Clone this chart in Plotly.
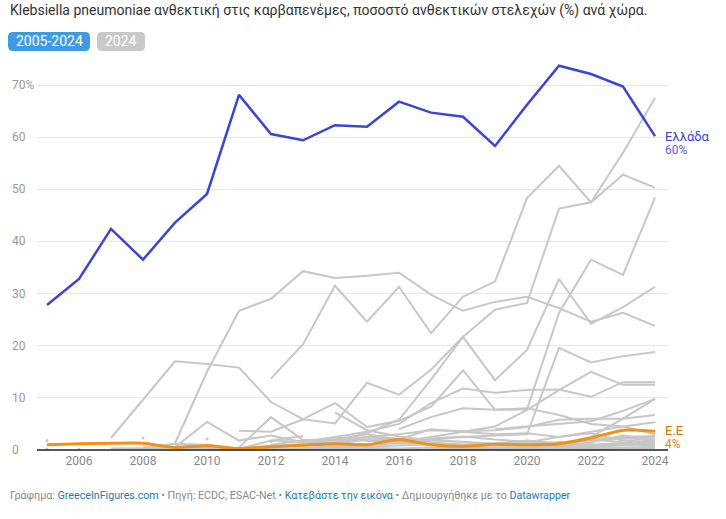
import plotly.graph_objects as go

N = None
years = list(range(2005, 2025))

greece = [27.8, 32.8, 42.4, 36.5, 43.6, 49.1, 68.1, 60.6, 59.4, 62.3,
          62.0, 66.8, 64.7, 63.9, 58.3, 66.2, 73.7, 72.1, 69.7, 60.2]
eu = [1.0, 1.2, 1.3, 1.3, 0.5, 0.8, 0.3, 0.6, 0.9, 1.2,
      1.0, 2.0, 1.0, 0.7, 1.1, 1.0, 1.2, 2.3, 3.8, 3.6]

# other countries (grey, unlabelled)
g_01 = [N, N, N, N, 1.3, 15.0, 26.7, 29.0, 34.3, 33.0, 33.4, 34.0, 29.8, 26.7, 28.4, 29.4, 27.2, 24.6, 26.3, 23.8]
g_02 = [N, N, N, N, N, N, N, 13.7, 20.3, 31.5, 24.6, 31.3, 22.4, 29.4, 32.3, 48.3, 54.5, 47.5, 52.8, 50.3]
g_03 = [N, N, N, N, N, N, N, N, 1.0, 1.8, 3.2, 5.8, 13.5, 21.7, 26.9, 28.2, 46.3, 47.5, 57.0, 67.5]
g_04 = [N, N, N, N, N, N, 3.7, 3.5, 5.9, 5.1, 12.9, 10.6, 15.4, 21.7, 13.4, 19.2, 32.8, 24.2, 27.4, 31.3]
g_05 = [N, N, 2.3, 9.6, 17.0, 16.5, 15.8, 9.2, 5.9, 9.0, 4.4, 5.6, 8.3, 15.3, 7.7, 7.8, 26.3, 36.5, 33.6, 48.4]
g_06 = [N, N, N, N, N, N, N, N, N, 0.5, 1.0, 1.5, 2.0, 2.5, 2.8, 3.0, 19.6, 16.8, 18.0, 18.8]
g_07 = [N, N, N, N, N, N, N, N, 1.5, 2.5, 3.5, 5.0, 9.0, 11.8, 11.0, 11.5, 11.6, 10.2, 13.0, 13.0]
g_08 = [N, N, N, N, N, N, N, N, N, N, N, 1.5, 2.5, 3.5, 4.5, 7.7, 11.5, 15.0, 12.5, 12.5]
g_09 = [N, N, N, N, N, N, N, N, N, N, N, N, N, N, N, N, 1.2, 2.5, 6.0, 9.8]
g_10 = [N, N, N, N, N, N, N, N, N, N, N, N, N, N, 4.0, 4.5, 5.0, 5.5, 7.5, 9.8]
g_11 = [N, N, N, N, N, N, N, N, N, N, N, 4.0, 6.3, 8.0, 7.7, 8.0, 6.7, 5.0, 4.5, 3.0]
g_12 = [N, N, N, N, N, N, N, N, N, 1.5, 2.5, 3.0, 3.8, 3.6, 3.8, 4.4, 5.8, 6.0, 6.0, 6.7]
g_13 = [N, N, N, N, N, N, N, N, N, N, N, N, N, N, 1.0, 1.5, 2.5, 3.5, 4.5, 5.3]
g_14 = [N, N, 0.3, 0.3, 0.4, 0.5, 0.3, 0.8, 1.2, 1.5, 1.0, 1.3, 1.0, 0.8, 1.2, 1.0, 1.5, 1.8, 2.2, 2.5]
g_15 = [N, N, N, 0.5, 1.2, 1.0, 0.2, 1.8, 1.5, 1.2, 2.0, 2.2, 1.5, 1.0, 0.8, 1.0, 0.6, 1.5, 2.8, 2.0]
g_16 = [N, N, N, N, 0.2, 0.3, 0.2, 0.5, 0.8, 2.3, 1.8, 1.5, 2.0, 1.5, 1.0, 0.5, 0.8, 2.0, 1.5, 1.2]
g_17 = [N, N, N, N, N, 0.1, 0.1, 0.2, 0.3, 0.5, 0.4, 0.3, 0.5, 0.4, 0.3, 0.3, 0.5, 0.8, 1.0, 1.0]
g_18 = [N, N, N, N, N, N, N, 0.0, 0.1, 0.2, 0.1, 0.0, 0.1, 0.2, 0.1, 0.1, 0.2, 0.2, 0.3, 0.4]
g_19 = [N, N, N, N, N, N, N, N, 1.2, 2.0, 3.0, 2.0, 4.0, 3.5, 3.0, 3.2, 2.5, 3.2, 1.8, 1.5]
g_20 = [N, N, N, N, N, N, N, 1.0, 1.8, 1.8, 2.5, 2.0, 1.2, 0.8, 0.3, 0.5, 0.8, 1.0, 1.3, 0.8]
g_21 = [N, N, N, N, 0.5, 5.4, 1.8, 2.8, 1.5, 2.5, 2.0, 1.5, 1.2, 1.0, 1.3, 1.8, 1.2, 1.0, 0.9, 1.2]
g_22 = [N, N, N, N, N, N, 0.5, 6.3, 1.9, 2.0, 1.8, 1.6, 2.2, 2.6, 2.0, 1.6, 1.4, 1.9, 2.4, 1.7]
g_23 = [N, N, N, N, N, N, N, N, N, 7.2, 3.8, 2.6, 1.8, 1.6, 1.2, 1.0, 1.4, 2.0, 2.5, 2.7]
g_24 = [N, N, N, N, N, N, N, 1.8, 2.7, N, N, N, N, N, N, N, N, N, N, N]
g_25 = [N, N, N, N, N, N, N, N, 0.4, 0.8, 0.6, 0.9, 1.1, 0.6, 0.9, 0.7, 0.4, 0.6, 0.5, 0.6]

# single reported values
dot_years = [2005, 2005, 2006, 2008, 2010, 2012]
dot_vals = [1.8, 0.2, 0.2, 2.3, 2.1, 1.6]

x_ticks = list(range(2006, 2025, 2))
y_ticks = [0, 10, 20, 30, 40, 50, 60, 70]

others = [g_01, g_02, g_03, g_04, g_05, g_06, g_07, g_08, g_09, g_10, g_11, g_12, g_13,
          g_14, g_15, g_16, g_17, g_18, g_19, g_20, g_21, g_22, g_23, g_24, g_25]

BLUE = "#3a45d6"
ORANGE = "#f39113"
GREY = "#c7c7c7"

fig = go.Figure()
for s in others:
    fig.add_trace(go.Scatter(x=years, y=s, mode="lines", line=dict(color=GREY, width=2),
                             hoverinfo="skip", showlegend=False))
fig.add_trace(go.Scatter(x=dot_years, y=dot_vals, mode="markers",
                         marker=dict(color=GREY, size=3), hoverinfo="skip", showlegend=False))
fig.add_trace(go.Scatter(x=years, y=eu, mode="lines",
                         line=dict(color=ORANGE, width=3, shape="spline", smoothing=0.6),
                         name="Ε.Ε", showlegend=False))
fig.add_trace(go.Scatter(x=years, y=greece, mode="lines", line=dict(color=BLUE, width=2.5),
                         name="Ελλάδα", showlegend=False))

# plot area in pixels
L, R, T, B = 37, 668, 55, 452
W, H = R - L, B - T
PX_PER_UNIT = 5.214


def px(x):
    return (x - L) / W


def py(y):
    return (B - y) / H


def pill(x0, y0, x1, y1, r):
    pts = [
        f"M{px(x0 + r)},{py(y0)}", f"L{px(x1 - r)},{py(y0)}", f"Q{px(x1)},{py(y0)} {px(x1)},{py(y0 + r)}",
        f"L{px(x1)},{py(y1 - r)}", f"Q{px(x1)},{py(y1)} {px(x1 - r)},{py(y1)}",
        f"L{px(x0 + r)},{py(y1)}", f"Q{px(x0)},{py(y1)} {px(x0)},{py(y1 - r)}",
        f"L{px(x0)},{py(y0 + r)}", f"Q{px(x0)},{py(y0)} {px(x0 + r)},{py(y0)}", "Z",
    ]
    return " ".join(pts)


shapes = [
    dict(type="path", xref="paper", yref="paper", path=pill(8, 32, 90, 51, 5),
         fillcolor="#3f9be0", line=dict(width=0)),
    dict(type="path", xref="paper", yref="paper", path=pill(97, 32, 145, 51, 5),
         fillcolor="#c9c9c9", line=dict(width=0)),
    dict(type="line", xref="paper", yref="y", x0=0, x1=1, y0=0, y1=0,
         line=dict(color="#222", width=1.3)),
]

annotations = [
    dict(text="Klebsiella pneumoniae ανθεκτική στις καρβαπενέμες, ποσοστό ανθεκτικών στελεχών (%) ανά χώρα.",
         xref="paper", yref="paper", x=px(8), y=py(10), xanchor="left", yanchor="middle",
         showarrow=False, font=dict(size=14, color="#333")),
    dict(text="2005-2024", xref="paper", yref="paper", x=px(49), y=py(41.5), xanchor="center",
         yanchor="middle", showarrow=False, font=dict(size=14, color="white")),
    dict(text="2024", xref="paper", yref="paper", x=px(121), y=py(41.5), xanchor="center",
         yanchor="middle", showarrow=False, font=dict(size=14, color="white")),
    dict(text="Ελλάδα", xref="x", yref="y", x=years[-1], y=greece[-1], xanchor="left", yanchor="middle",
         xshift=8, yshift=0, showarrow=False, font=dict(size=13, color=BLUE)),
    dict(text=f"{round(greece[-1])}%", xref="x", yref="y", x=years[-1], y=greece[-1], xanchor="left",
         yanchor="middle", xshift=8, yshift=-14, showarrow=False, font=dict(size=12, color="#5560e0")),
    dict(text="Ε.Ε", xref="x", yref="y", x=years[-1], y=eu[-1], xanchor="left", yanchor="middle",
         xshift=8, yshift=1, showarrow=False, font=dict(size=13, color="#d67308")),
    dict(text=f"{round(eu[-1])}%", xref="x", yref="y", x=years[-1], y=eu[-1], xanchor="left",
         yanchor="middle", xshift=8, yshift=-13, showarrow=False, font=dict(size=12, color="#e0860f")),
    dict(text="Γράφημα: <span style='color:#1a78c2'>GreeceInFigures.com</span> • Πηγή: ECDC, ESAC-Net • "
              "<span style='color:#1a78c2'>Κατεβάστε την εικόνα</span> • Δημιουργήθηκε με το "
              "<span style='color:#1a78c2'>Datawrapper</span>",
         xref="paper", yref="paper", x=px(8), y=py(496), xanchor="left", yanchor="middle",
         showarrow=False, font=dict(size=10.7, color="#888")),
]
for v in y_ticks:
    annotations.append(dict(text=f"{v}%" if v == y_ticks[-1] else str(v), xref="paper", yref="y",
                            x=px(10), y=v, xanchor="left", yanchor="middle", showarrow=False,
                            font=dict(size=12, color="#999")))

fig.update_layout(
    width=726, height=519,
    margin=dict(l=L, r=726 - R, t=T, b=519 - B),
    plot_bgcolor="white", paper_bgcolor="white",
    font=dict(family="Roboto, sans-serif"),
    shapes=shapes, annotations=annotations,
    xaxis=dict(range=[2005 - 10 / 32, 2024 + 13 / 32], tickvals=x_ticks, showgrid=False,
               zeroline=False, showline=False, ticks="", tickfont=dict(size=12, color="#888")),
    yaxis=dict(range=[-(B - 450) / PX_PER_UNIT, 70 + (85 - T) / PX_PER_UNIT], tickvals=y_ticks,
               showgrid=True, gridcolor="#e6e6e6", zeroline=False, showticklabels=False),
)

fig.write_html("out.html", config={"displayModeBar": False},
               post_script="document.body.style.margin='0';")
